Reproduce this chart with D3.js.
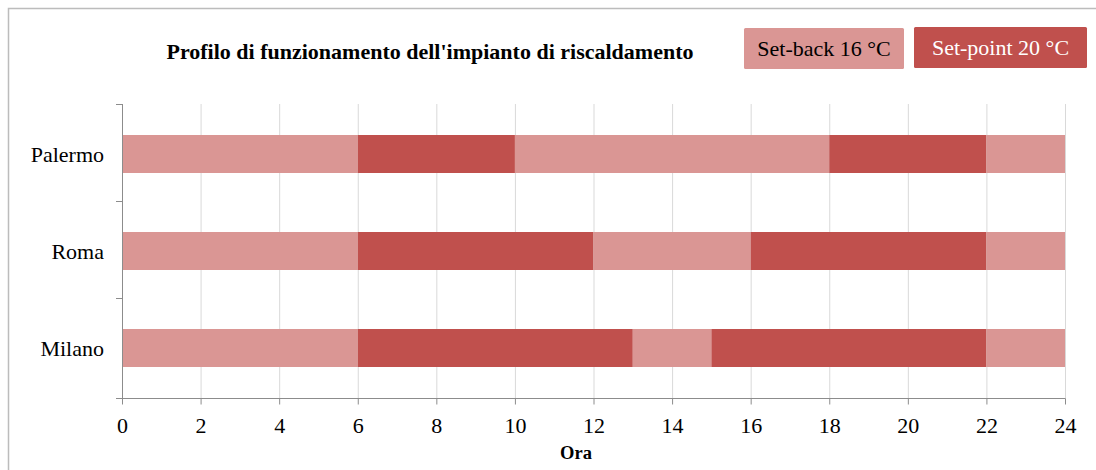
<!DOCTYPE html>
<html><head><meta charset="utf-8">
<script src="https://cdn.jsdelivr.net/npm/d3@7"></script>
<style>body{margin:0;background:#fff}svg{display:block}</style>
</head><body><svg id="c" width="1096" height="470"></svg>
<script>
const categories = ["Palermo", "Roma", "Milano"];
// consecutive segments (hours) for each city, alternating set-back / set-point
const segmentKinds = ["back", "point", "back", "point", "back"];
const seg1 = [6, 6, 6];
const seg2 = [4, 6, 7];
const seg3 = [8, 4, 2];
const seg4 = [4, 6, 7];
const seg5 = [2, 2, 2];
const xTicks = [0, 2, 4, 6, 8, 10, 12, 14, 16, 18, 20, 22, 24];
const legendLabels = ["Set-back 16 °C", "Set-point 20 °C"];
const title = "Profilo di funzionamento dell'impianto di riscaldamento";
const xTitle = "Ora";

const colors = {back: "#DA9694", point: "#C0504D"};
const segs = [seg1, seg2, seg3, seg4, seg5];
const rows = categories.map((c, i) => {
  const r = {cat: c};
  segs.forEach((s, j) => r["s" + j] = s[i]);
  return r;
});
const keys = segs.map((_, j) => "s" + j);
const stacked = d3.stack().keys(keys)(rows);

const svg = d3.select("#c");
const font = "'Liberation Serif','Times New Roman',serif";
// frame
svg.append("path").attr("d", "M8.5,470 L8.5,8.5 L1096,8.5").attr("fill", "none").attr("stroke", "#bcbcbc").attr("stroke-width", 1.5);

const x = d3.scaleLinear().domain([0, 24]).range([122, 1065]);
const band = d3.scaleBand().domain(categories).range([104, 395]);
const center = c => band(c) + band.bandwidth() / 2 + 1.5;

// gridlines
svg.append("g").selectAll("line").data(xTicks.slice(1)).join("line")
  .attr("x1", d => x(d) + 0.5).attr("x2", d => x(d) + 0.5)
  .attr("y1", 104).attr("y2", 398).attr("stroke", "#d9d9d9").attr("stroke-width", 1);

// bars
svg.append("g").selectAll("g").data(stacked).join("g")
  .attr("fill", (d, j) => colors[segmentKinds[j]])
  .selectAll("rect").data(d => d).join("rect")
  .attr("x", d => x(d[0])).attr("width", d => x(d[1]) - x(d[0]))
  .attr("y", d => center(d.data.cat) - 19).attr("height", 38);

// y axis
const ya = svg.append("g");
ya.append("line").attr("x1", 122.5).attr("x2", 122.5).attr("y1", 104).attr("y2", 398).attr("stroke", "#8c8c8c");
const yTickPos = [104, ...categories.slice(1).map(c => band(c))];
ya.selectAll("line.t").data(yTickPos).join("line").attr("class", "t")
  .attr("x1", 116).attr("x2", 122.5).attr("y1", d => Math.round(d) + 0.5).attr("y2", d => Math.round(d) + 0.5).attr("stroke", "#8c8c8c");
ya.selectAll("text").data(categories).join("text")
  .attr("x", 104).attr("y", d => center(d) + 8)
  .attr("text-anchor", "end").attr("font-family", font).attr("font-size", 22).attr("fill", "#000").text(d => d);

// x axis
const xa = svg.append("g").attr("transform", "translate(0,398.5)")
  .call(d3.axisBottom(x).tickValues(xTicks).tickSize(6).tickPadding(9).tickSizeOuter(0));
xa.select(".domain").attr("stroke", "#8c8c8c").attr("d", "M116,0H1065.5");
xa.selectAll(".tick line").attr("stroke", "#8c8c8c");
xa.selectAll("text").attr("dy", null).attr("y", 34).attr("font-family", font).attr("font-size", 22).attr("fill", "#000");
svg.append("text").attr("x", 576).attr("y", 459).attr("text-anchor", "middle")
  .attr("font-family", font).attr("font-size", 18.5).attr("font-weight", "bold").text(xTitle);

// title
svg.append("text").attr("x", 430).attr("y", 59).attr("text-anchor", "middle")
  .attr("font-family", font).attr("font-size", 22).attr("font-weight", "bold").text(title);

// legend
const legendBoxes = [{x: 744, w: 160, y: 28, kind: "back", tc: "#000"}, {x: 914, w: 173, y: 27, kind: "point", tc: "#fff"}];
const lg = svg.append("g").selectAll("g").data(legendLabels).join("g");
lg.append("rect").attr("x", (d, i) => legendBoxes[i].x).attr("y", (d, i) => legendBoxes[i].y)
  .attr("width", (d, i) => legendBoxes[i].w).attr("height", 41).attr("rx", 1.5)
  .attr("fill", (d, i) => colors[legendBoxes[i].kind]);
lg.append("text").attr("x", (d, i) => legendBoxes[i].x + legendBoxes[i].w / 2).attr("y", (d, i) => legendBoxes[i].y + 28)
  .attr("text-anchor", "middle").attr("font-family", font).attr("font-size", 22)
  .attr("fill", (d, i) => legendBoxes[i].tc).text(d => d);
</script></body></html>
